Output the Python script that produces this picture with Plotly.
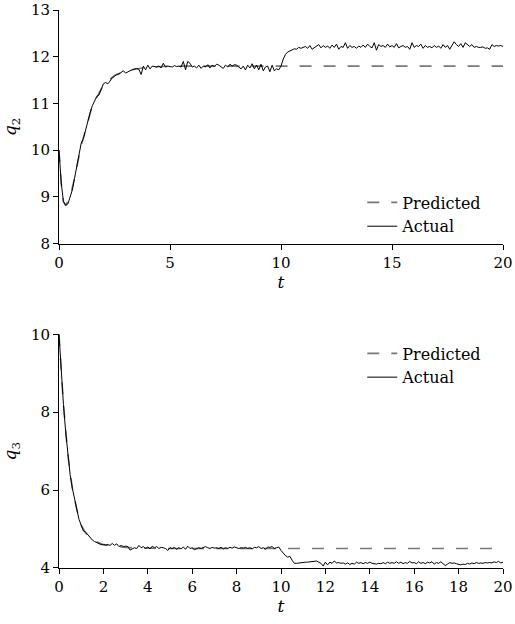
import numpy as np
import plotly.graph_objects as go
from plotly.subplots import make_subplots

# ---------------- data ----------------
t = [round(0.1 * i, 1) for i in range(201)]

q2_actual = [
    10.0, 9.3, 8.9, 8.82, 8.85, 9.0, 9.15, 9.4, 9.65, 9.85,
    10.15, 10.25, 10.45, 10.6, 10.8, 10.95, 11.05, 11.15, 11.18, 11.3,
    11.42, 11.45, 11.42, 11.48, 11.55, 11.58, 11.62, 11.63, 11.66, 11.7,
    11.65, 11.68, 11.7, 11.72, 11.74, 11.75, 11.73, 11.62, 11.8, 11.72,
    11.82, 11.74, 11.8, 11.79, 11.78, 11.8, 11.76, 11.86, 11.78, 11.8,
    11.79, 11.78, 11.81, 11.79, 11.8, 11.78, 11.9, 11.72, 11.9, 11.86,
    11.78, 11.8, 11.76, 11.82, 11.75, 11.8, 11.78, 11.83, 11.76, 11.82,
    11.79, 11.84, 11.82, 11.78, 11.75, 11.82, 11.78, 11.84, 11.8, 11.83,
    11.82, 11.78, 11.74, 11.8, 11.72, 11.82, 11.76, 11.85, 11.74, 11.82,
    11.72, 11.84, 11.7, 11.78, 11.8, 11.68, 11.82, 11.7, 11.74, 11.72,
    11.8, 11.95, 12.05, 12.1, 12.12, 12.15, 12.17, 12.16, 12.2, 12.18,
    12.2, 12.22, 12.18, 12.24, 12.16, 12.2, 12.22, 12.26, 12.19, 12.24,
    12.2, 12.23, 12.18, 12.25, 12.2, 12.27, 12.16, 12.22, 12.2, 12.3,
    12.18, 12.24, 12.2, 12.22, 12.18, 12.23, 12.2, 12.25, 12.2, 12.27,
    12.22, 12.19, 12.3, 12.14, 12.26, 12.22, 12.24, 12.2, 12.27, 12.21,
    12.24, 12.2, 12.28, 12.19, 12.22, 12.24, 12.2, 12.22, 12.16, 12.3,
    12.2, 12.24, 12.22, 12.27, 12.18, 12.24, 12.2, 12.22, 12.19, 12.24,
    12.2, 12.23, 12.18, 12.26, 12.2, 12.24, 12.16, 12.24, 12.32, 12.26,
    12.22, 12.28, 12.2, 12.3, 12.25, 12.22, 12.26, 12.2, 12.22, 12.2,
    12.2, 12.21, 12.18, 12.19, 12.16, 12.26, 12.22, 12.24, 12.23, 12.24,
    12.22,
]

q2_pred_t = [0, 0.1, 0.2, 0.3, 0.5, 0.7, 1.0, 1.5, 2.0, 2.5, 3.0, 4.0, 5.0, 20.0]
q2_pred = [10.0, 9.3, 8.9, 8.82, 9.0, 9.4, 10.1, 10.95, 11.4, 11.6, 11.7, 11.78, 11.8, 11.8]

q3_actual = [
    10.0, 9.0, 8.2, 7.5, 6.9, 6.4, 6.05, 5.75, 5.5, 5.25,
    5.1, 4.95, 4.92, 4.85, 4.76, 4.72, 4.68, 4.65, 4.62, 4.6,
    4.6, 4.59, 4.6, 4.58, 4.63, 4.58, 4.62, 4.55, 4.58, 4.55,
    4.56, 4.55, 4.46, 4.48, 4.52, 4.5, 4.58, 4.52, 4.55, 4.5,
    4.54, 4.49, 4.56, 4.52, 4.55, 4.5, 4.53, 4.52, 4.5, 4.45,
    4.52, 4.5, 4.53, 4.48, 4.52, 4.49, 4.54, 4.48, 4.56, 4.5,
    4.52, 4.47, 4.5, 4.52, 4.5, 4.52, 4.55, 4.52, 4.5, 4.53,
    4.51, 4.52, 4.5, 4.53, 4.49, 4.52, 4.5, 4.53, 4.51, 4.54,
    4.52, 4.5, 4.52, 4.51, 4.53, 4.5, 4.52, 4.49, 4.53, 4.52,
    4.55, 4.5, 4.52, 4.48, 4.54, 4.53, 4.55, 4.5, 4.52, 4.54,
    4.45, 4.38, 4.32, 4.28, 4.3, 4.2, 4.12, 4.12, 4.13, 4.14,
    4.14, 4.15, 4.15, 4.16, 4.16, 4.18, 4.18, 4.15, 4.12, 4.05,
    4.15, 4.08, 4.15, 4.12, 4.18, 4.13, 4.14, 4.12, 4.13, 4.1,
    4.13, 4.09, 4.12, 4.1, 4.15, 4.12, 4.14, 4.11, 4.14, 4.12,
    4.15, 4.12, 4.11, 4.1, 4.12, 4.11, 4.14, 4.11, 4.15, 4.12,
    4.14, 4.12, 4.16, 4.12, 4.15, 4.11, 4.14, 4.12, 4.17, 4.13,
    4.14, 4.11, 4.16, 4.12, 4.14, 4.11, 4.15, 4.13, 4.16, 4.1,
    4.14, 4.12, 4.16, 4.1, 4.06, 4.1, 4.14, 4.12, 4.13, 4.11,
    4.1, 4.08, 4.1, 4.09, 4.12, 4.1, 4.13, 4.11, 4.14, 4.12,
    4.13, 4.12, 4.14, 4.13, 4.14, 4.13, 4.16, 4.14, 4.17, 4.13,
    4.15,
]

q3_pred_t = [0, 0.2, 0.4, 0.6, 0.8, 1.0, 1.2, 1.5, 2.0, 3.0, 4.0, 5.0, 20.0]
q3_pred = [10.0, 8.2, 6.9, 6.05, 5.5, 5.1, 4.9, 4.72, 4.6, 4.53, 4.51, 4.5, 4.5]

top_xticks = [0, 5, 10, 15, 20]
top_yticks = [8, 9, 10, 11, 12, 13]
bot_xticks = [0, 2, 4, 6, 8, 10, 12, 14, 16, 18, 20]
bot_yticks = [4, 6, 8, 10]

# ---------------- figure ----------------
FONT = "DejaVu Serif, Liberation Serif, Times New Roman, serif"
pred_line = dict(color="#777777", width=1.6, dash="12px,12px")
act_line = dict(color="black", width=1)

fig = make_subplots(rows=2, cols=1, vertical_spacing=0.1624)

fig.add_trace(go.Scatter(x=q2_pred_t, y=q2_pred, mode="lines", name="Predicted",
                         line=pred_line, legend="legend"), row=1, col=1)
fig.add_trace(go.Scatter(x=t, y=q2_actual, mode="lines", name="Actual",
                         line=act_line, legend="legend"), row=1, col=1)
fig.add_trace(go.Scatter(x=q3_pred_t, y=q3_pred, mode="lines", name="Predicted",
                         line=pred_line, legend="legend2"), row=2, col=1)
fig.add_trace(go.Scatter(x=t, y=q3_actual, mode="lines", name="Actual",
                         line=act_line, legend="legend2"), row=2, col=1)

axis_common = dict(showline=True, linecolor="black", linewidth=1, mirror=False,
                   ticks="outside", ticklen=5, tickcolor="black", tickwidth=1,
                   showgrid=False, zeroline=False, automargin=False,
                   tickfont=dict(family=FONT, size=15, color="black"))

fig.update_xaxes(**axis_common)
fig.update_yaxes(**axis_common)

title_font = dict(family=FONT, size=17, color="black")
fig.update_xaxes(range=[0, 20], tickvals=top_xticks, row=1, col=1,
                 title=dict(text="<i>t</i>", font=title_font, standoff=2))
fig.update_yaxes(range=[8, 13], tickvals=top_yticks, row=1, col=1,
                 title=dict(text="<i>q</i><sub>2</sub>", font=title_font, standoff=10))
fig.update_xaxes(range=[0, 20], tickvals=bot_xticks, row=2, col=1,
                 title=dict(text="<i>t</i>", font=title_font, standoff=5))
fig.update_yaxes(range=[4, 10], tickvals=bot_yticks, row=2, col=1,
                 title=dict(text="<i>q</i><sub>3</sub>", font=title_font, standoff=10))

legend_common = dict(font=dict(family=FONT, size=16, color="black"),
                     bgcolor="rgba(0,0,0,0)", borderwidth=0,
                     xanchor="left", yanchor="middle", tracegroupgap=0,
                     itemwidth=30)

fig.update_layout(
    width=515, height=624,
    margin=dict(l=59, r=12, t=10, b=56),
    paper_bgcolor="white", plot_bgcolor="white",
    font=dict(family=FONT, color="black"),
    showlegend=True,
    legend=dict(x=0.683, y=0.6335, **legend_common),
    legend2=dict(x=0.683, y=0.363, **legend_common),
)

fig.write_html(
    "out.html",
    config={"displayModeBar": False},
    post_script="document.body.style.margin='0';document.body.style.overflow='hidden';",
)
